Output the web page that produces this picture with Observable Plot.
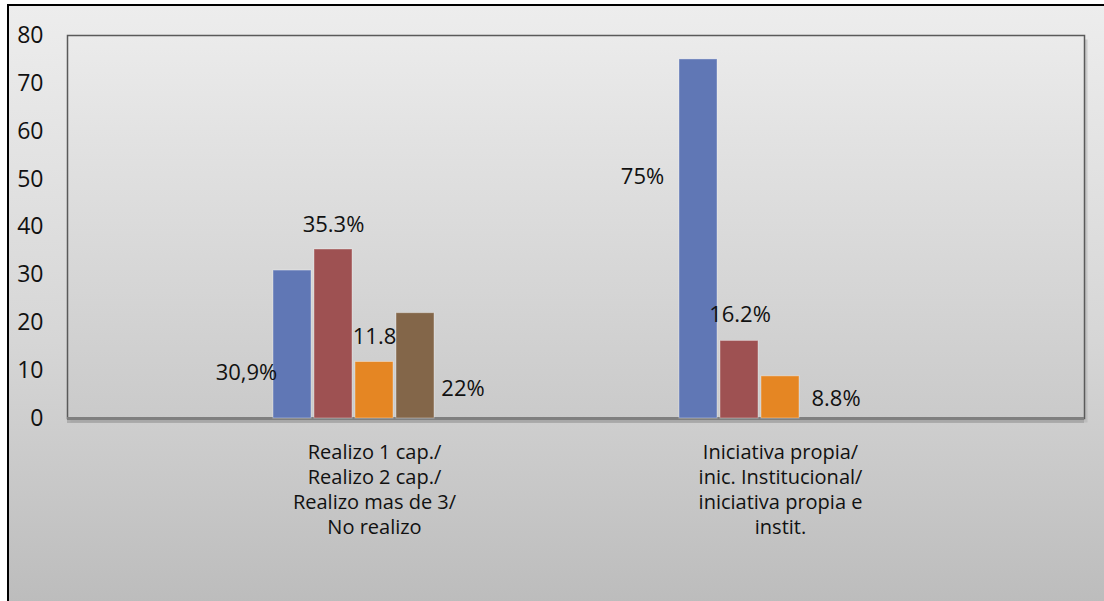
<!DOCTYPE html>
<html>
<head>
<meta charset="utf-8">
<script src="https://cdn.jsdelivr.net/npm/d3@7"></script>
<script src="https://cdn.jsdelivr.net/npm/@observablehq/plot@0.6"></script>
<style>
  html, body { margin: 0; padding: 0; background: #ffffff; }
  #wrap { position: relative; width: 1104px; height: 601px; overflow: hidden; }
  #bg {
    position: absolute; left: 7px; top: 4px; width: 1104px; height: 610px;
    border-left: 2px solid #000; border-top: 2px solid #000;
    background: linear-gradient(to bottom, #ededed 0%, #d6d6d6 55%, #bbbbbb 100%);
  }
  #chart { position: absolute; left: 0; top: 0; }
</style>
</head>
<body>
<div id="wrap"><div id="bg"></div><div id="chart"></div></div>
<script>
// ---- data ----
const categories = [
  "Realizo 1 cap./\nRealizo 2 cap./\nRealizo mas de 3/\nNo realizo",
  "Iniciativa propia/\ninic. Institucional/\niniciativa propia e\ninstit."
];
const seriesNames = ["Serie 1", "Serie 2", "Serie 3", "Serie 4"];
const group1Values = [30.9, 35.3, 11.8, 22];
const group2Values = [75, 16.2, 8.8];
const group1Labels = ["30,9%", "35.3%", "11.8", "22%"];
const group2Labels = ["75%", "16.2%", "8.8%"];
const yTicks = [0, 10, 20, 30, 40, 50, 60, 70, 80];

// ---- styles ----
const seriesColors = ["#6077b5", "#9e5152", "#e58623", "#836649"];
const slotStep = 41;
// label offsets (dx from bar centre, dy from bar top), keyed by group/series
const labelOffsets = [
  [[-46, 102], [0, -25], [0, -25.5], [47.5, 76]],
  [[-56, 118], [0.5, -26], [55.5, 22.5]]
];

const rows = [];
[group1Values, group2Values].forEach((vals, g) => {
  const labs = g === 0 ? group1Labels : group2Labels;
  vals.forEach((v, i) => rows.push({category: categories[g], g, series: seriesNames[i], i, value: v, label: labs[i]}));
});

const font = "'Open Sans', 'DejaVu Sans', sans-serif";
const marks = [
  Plot.frame({fill: "#b0b0b0", opacity: 0.55, dx: 3, dy: 4}),
  Plot.frame({fill: "url(#plotGrad)", stroke: "#5a5a5a", strokeWidth: 1.5}),
  Plot.ruleY([0], {stroke: "#9a9a9a", strokeWidth: 3, dy: 3, strokeOpacity: 0.6}),
  Plot.ruleY([0], {stroke: "#7f7f7f", strokeWidth: 3})
];
seriesNames.forEach((s, i) => {
  marks.push(Plot.barY(rows.filter(r => r.i === i), {
    x: "category", y: "value", fill: seriesColors[i],
    stroke: "#ffffff", strokeOpacity: 0.35, strokeWidth: 1,
    insetLeft: 184, insetRight: 184, dx: (i - 2) * slotStep
  }));
});
rows.forEach(r => {
  const [ox, oy] = labelOffsets[r.g][r.i];
  marks.push(Plot.text([r], {
    x: "category", y: "value", text: "label",
    dx: (r.i - 2) * slotStep + ox, dy: oy,
    fontSize: 22, fill: "#111", fontFamily: font
  }));
});
marks.push(Plot.text(categories, {
  x: d => d, y: () => 0, text: d => d,
  dy: 69.5, lineAnchor: "middle", lineHeight: 1.25,
  fontSize: 20, fill: "#111", fontFamily: font
}));

const chart = Plot.plot({
  width: 1104,
  height: 601,
  marginLeft: 67,
  marginRight: 20,
  marginTop: 35,
  marginBottom: 183,
  style: {background: "transparent", fontSize: "23px", fontFamily: font, color: "#111"},
  x: {domain: categories, range: [170.5, 982.5], padding: 0, axis: null},
  y: {domain: [0, 80], ticks: yTicks, tickSize: 0, tickPadding: 24, label: null, tickFormat: d => String(d)},
  marks
});

// gradient definition for plot area
const svg = d3.select(chart.tagName === "svg" ? chart : chart.querySelector("svg"));
const defs = svg.insert("defs", ":first-child");
const lg = defs.append("linearGradient").attr("id", "plotGrad").attr("x1", 0).attr("y1", 0).attr("x2", 0).attr("y2", 1);
lg.append("stop").attr("offset", "0%").attr("stop-color", "#ebebeb");
lg.append("stop").attr("offset", "100%").attr("stop-color", "#cacaca");

document.getElementById("chart").appendChild(chart);
</script>
</body>
</html>
